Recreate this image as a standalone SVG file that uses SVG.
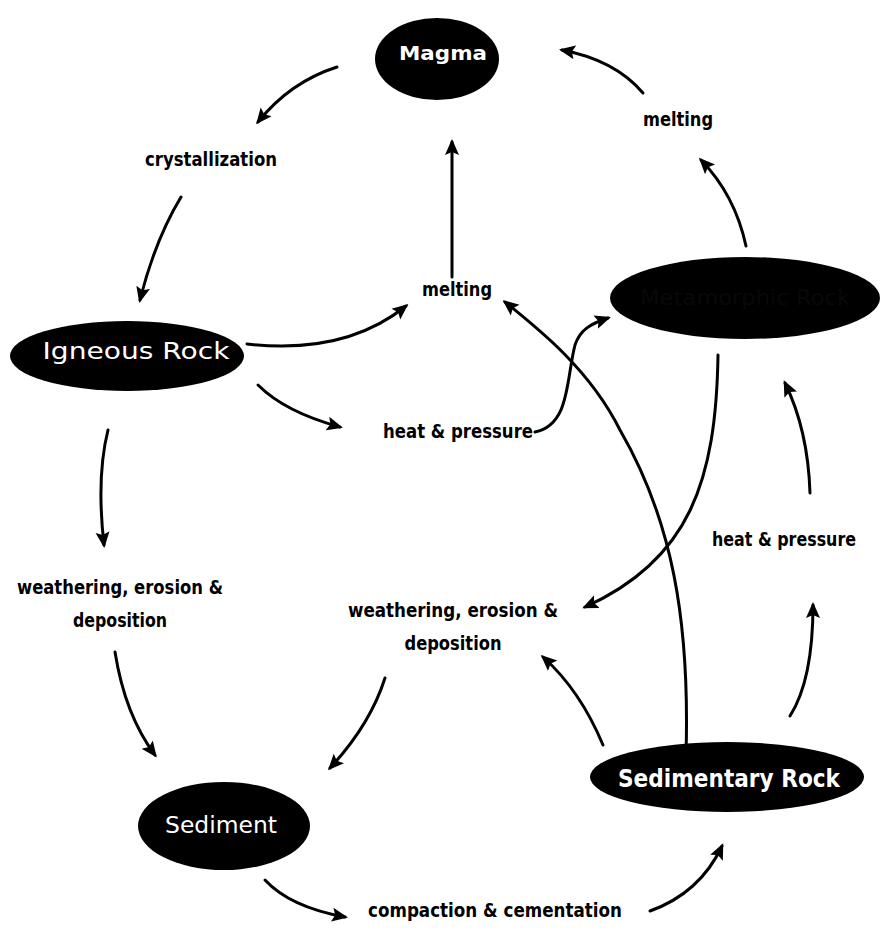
<svg xmlns="http://www.w3.org/2000/svg" width="881" height="941" viewBox="0 0 881 941">
<style>
.node{fill:#000}
.nt{fill:#fff;font-family:"DejaVu Sans","Liberation Sans",sans-serif;text-anchor:middle}
.lb{fill:#000;font-family:"DejaVu Sans","Liberation Sans",sans-serif;font-size:19px;text-anchor:middle;font-weight:bold}
.c{fill:none;stroke:#000;stroke-width:3;stroke-linecap:round;marker-end:url(#ah)}
</style>
<defs>
<marker id="ah" markerUnits="userSpaceOnUse" markerWidth="16" markerHeight="16" viewBox="0 0 16 16" refX="13" refY="8" orient="auto">
<path d="M0,1 L16,8 L0,15 L3,8 Z" fill="#000"/>
</marker>
</defs>
<rect width="881" height="941" fill="#fff"/>
<g id="connectors">
<path class="c" d="M337,67 Q290,82 258,122"/>
<path class="c" d="M181,197 Q155,240 140,300"/>
<path class="c" d="M247,344 Q345,355 406,306"/>
<path class="c" d="M452,277 L452,142"/>
<path class="c" d="M258,385 Q285,412 340,427"/>
<path class="c" d="M535,432 C570,425 566,380 575,345 C580,330 590,324 608,318"/>
<path class="c" d="M746,246 Q735,195 701,160"/>
<path class="c" d="M643,93 Q615,60 562,50"/>
<path class="c" d="M686,755 C690,620 672,520 620,430 C590,370 540,330 505,302"/>
<path class="c" d="M718,355 C716,480 690,560 585,607"/>
<path class="c" d="M810,493 Q808,430 785,383"/>
<path class="c" d="M790,716 Q813,680 813,605"/>
<path class="c" d="M603,745 Q580,690 543,657"/>
<path class="c" d="M385,678 Q370,725 330,768"/>
<path class="c" d="M108,430 C98,470 100,510 104,545"/>
<path class="c" d="M115,652 Q125,715 155,755"/>
<path class="c" d="M265,880 Q290,907 345,917"/>
<path class="c" d="M650,911 Q700,893 722,846"/>
</g>
<g id="labels">
<text class="lb" x="211" y="166" textLength="132" lengthAdjust="spacingAndGlyphs">crystallization</text>
<text class="lb" x="678" y="126" textLength="70" lengthAdjust="spacingAndGlyphs">melting</text>
<text class="lb" x="457" y="296" textLength="70" lengthAdjust="spacingAndGlyphs">melting</text>
<text class="lb" x="458" y="438" textLength="150" lengthAdjust="spacingAndGlyphs">heat &amp; pressure</text>
<text class="lb" x="784" y="546" font-size="18" textLength="144" lengthAdjust="spacingAndGlyphs">heat &amp; pressure</text>
<text class="lb" x="120" y="594" textLength="206" lengthAdjust="spacingAndGlyphs">weathering, erosion &amp;</text>
<text class="lb" x="120" y="627" textLength="94" lengthAdjust="spacingAndGlyphs">deposition</text>
<text class="lb" x="453" y="617" textLength="210" lengthAdjust="spacingAndGlyphs">weathering, erosion &amp;</text>
<text class="lb" x="453" y="650" textLength="97" lengthAdjust="spacingAndGlyphs">deposition</text>
<text class="lb" x="495" y="917" textLength="254" lengthAdjust="spacingAndGlyphs">compaction &amp; cementation</text>
</g>
<g id="magma">
<ellipse class="node" cx="437" cy="59" rx="62" ry="41"/>
<text class="nt" x="443" y="60" font-size="20" font-weight="bold" textLength="88" lengthAdjust="spacingAndGlyphs">Magma</text>
</g>
<g id="igneous">
<ellipse class="node" cx="127" cy="356" rx="117" ry="35"/>
<text class="nt" x="136" y="359" font-size="23" textLength="187" lengthAdjust="spacingAndGlyphs">Igneous Rock</text>
</g>
<g id="metamorphic">
<ellipse class="node" cx="745" cy="298" rx="135" ry="41"/>
<text x="745" y="305" font-size="22" fill="#080808" font-family="DejaVu Sans, sans-serif" text-anchor="middle" textLength="210" lengthAdjust="spacingAndGlyphs">Metamorphic Rock</text>
</g>
<g id="sedimentary">
<ellipse class="node" cx="727" cy="777" rx="137" ry="35"/>
<text x="729" y="787" font-size="24" font-weight="bold" fill="#fff" stroke="#000" stroke-width="2" paint-order="stroke" font-family="DejaVu Sans, sans-serif" text-anchor="middle" textLength="222" lengthAdjust="spacingAndGlyphs">Sedimentary Rock</text>
</g>
<g id="sediment">
<ellipse class="node" cx="224" cy="826" rx="86" ry="44"/>
<text class="nt" x="221" y="833" font-size="23" textLength="112" lengthAdjust="spacingAndGlyphs">Sediment</text>
</g>
</svg>
